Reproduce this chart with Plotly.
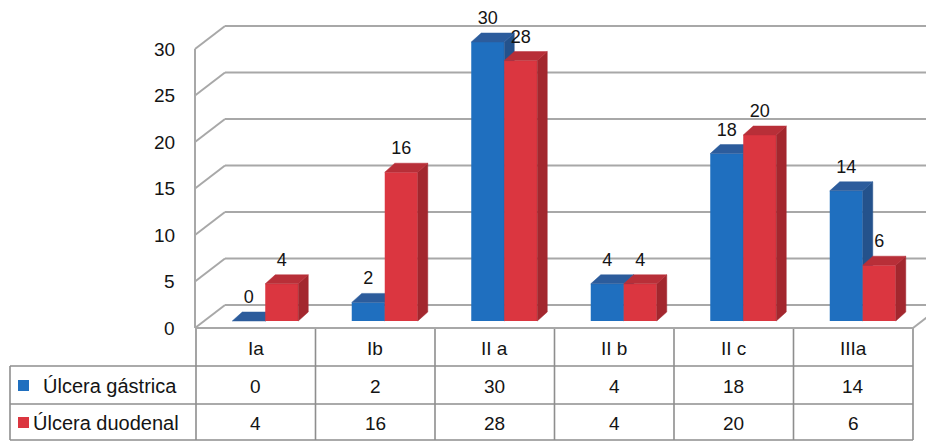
import plotly.graph_objects as go

# ---------------- data ----------------
categories = ["Ia", "Ib", "II a", "II b", "II c", "IIIa"]
gastrica = [0, 2, 30, 4, 18, 14]
duodenal = [4, 16, 28, 4, 20, 6]
series_names = ["Úlcera gástrica", "Úlcera duodenal"]
y_ticks = [0, 5, 10, 15, 20, 25, 30]

# ---------------- geometry / style ----------------
W, H = 934, 442              # browser window
OFF = 8                      # default page body margin
FW, FH = W - OFF, H - OFF    # figure size
CAT_LEFT, CAT_W = 196.0, 119.5          # window px of category -0.5 and px per category
BASE_PX, KY = 321.0, 9.3                 # window px of value 0 (bar plane) and px per unit
FRONT_LEFT, FRONT_DY = 195.0, 7.0        # front plane: left edge px, px below bar plane
BACK_LEFT, BACK_DY = 225.0, 16.0         # back wall: left edge px, px above bar plane
RIGHT_FRONT = 913.0
BAR_W, DEPTH_X, DEPTH_Y = 33.0, 10.0, 9.0
OFFS = [-7.0, 26.0]
LABEL_UP = 22.5
FRONT_C = ["#1F6FBF", "#DB3640"]
SIDE_C = ["#24528C", "#A3272E"]
TOP_C = ["#2C5C9C", "#B82F38"]
GRID_C = "#A8A8A8"
TABLE_C = "#8E8E8E"
FONT = "Liberation Sans, Arial, sans-serif"
TXT = "#141414"

def xd(px):
    return -0.5 + (px - CAT_LEFT) / CAT_W

def dxd(dpx):
    return dpx / CAT_W

def yd(py):
    return (BASE_PX - py) / KY

def dyd(dpx):
    return dpx / KY

def px_x(px):
    return (px - OFF) / FW

def px_y(py):
    return 1 - (py - OFF) / FH

fig = go.Figure()

series = [gastrica, duodenal]
axes = [("x", "y"), ("x2", "y2")]
for s, vals in enumerate(series):
    xa, ya = axes[s]
    centers = [i + dxd(OFFS[s]) for i in range(len(categories))]
    half = dxd(BAR_W) / 2
    ddx, ddy = dxd(DEPTH_X), dyd(DEPTH_Y)
    fig.add_trace(go.Bar(x=centers, y=vals, width=dxd(BAR_W), name=series_names[s],
                         marker=dict(color=FRONT_C[s], line=dict(width=0)),
                         xaxis=xa, yaxis=ya, showlegend=False, hoverinfo="skip"))
    sx, sy, tx, ty = [], [], [], []
    for c, v in zip(centers, vals):
        l, r = c - half, c + half
        sx += [r, r, r + ddx, r + ddx, r, None]
        sy += [0, v, v + ddy, ddy, 0, None]
        tx += [l, r, r + ddx, l + ddx, l, None]
        ty += [v, v, v + ddy, v + ddy, v, None]
    fig.add_trace(go.Scatter(x=sx, y=sy, mode="lines", fill="toself", fillcolor=SIDE_C[s],
                             line=dict(width=0.5, color=SIDE_C[s]), xaxis=xa, yaxis=ya,
                             showlegend=False, hoverinfo="skip"))
    fig.add_trace(go.Scatter(x=tx, y=ty, mode="lines", fill="toself", fillcolor=TOP_C[s],
                             line=dict(width=0.5, color=TOP_C[s]), xaxis=xa, yaxis=ya,
                             showlegend=False, hoverinfo="skip"))
    fig.add_trace(go.Scatter(x=centers, y=[v + dyd(LABEL_UP) for v in vals],
                             text=[str(v) for v in vals], mode="text", cliponaxis=False,
                             textfont=dict(family=FONT, size=18, color=TXT),
                             xaxis=xa, yaxis=ya, showlegend=False, hoverinfo="skip"))

shapes = []
def dline(x0, y0, x1, y1, color=GRID_C, width=2):
    shapes.append(dict(type="line", xref="x", yref="y", x0=x0, y0=y0, x1=x1, y1=y1,
                       line=dict(color=color, width=width), layer="below"))

def pline(x0, y0, x1, y1, color=TABLE_C, width=1.6):
    shapes.append(dict(type="line", xref="paper", yref="paper",
                       x0=px_x(x0), y0=px_y(y0), x1=px_x(x1), y1=px_y(y1),
                       line=dict(color=color, width=width), layer="below"))

annotations = []
for t in y_ticks:
    yf = t - dyd(FRONT_DY)
    yb = t + dyd(BACK_DY)
    dline(xd(FRONT_LEFT), yf, xd(BACK_LEFT), yb)
    dline(xd(BACK_LEFT), yb, xd(W + 2), yb)
    annotations.append(dict(xref="paper", yref="y", x=px_x(177), y=yf, text=str(t),
                            xanchor="right", yanchor="middle", showarrow=False,
                            font=dict(family=FONT, size=19, color=TXT)))
yf0 = y_ticks[0] - dyd(FRONT_DY)
yf30 = y_ticks[-1] - dyd(FRONT_DY)
dline(xd(FRONT_LEFT), yf0, xd(FRONT_LEFT), yf30)
dline(xd(FRONT_LEFT), yf0, xd(RIGHT_FRONT), yf0)
slope = (BACK_DY + FRONT_DY) / (BACK_LEFT - FRONT_LEFT)
dline(xd(RIGHT_FRONT), yf0, xd(W + 2), yf0 + dyd((W + 2 - RIGHT_FRONT) * slope))

# ---------------- data table ----------------
ROW_Y = [328, 366, 404, 440]
TABLE_LEFT = 10
col_edges = [CAT_LEFT + i * CAT_W for i in range(len(categories) + 1)]
for ry in ROW_Y[1:]:
    pline(TABLE_LEFT, ry, col_edges[-1], ry)
pline(TABLE_LEFT, ROW_Y[1], TABLE_LEFT, ROW_Y[-1])
for ex in col_edges:
    pline(ex, ROW_Y[0], ex, ROW_Y[-1])

for i, cat in enumerate(categories):
    cx = (col_edges[i] + col_edges[i + 1]) / 2
    annotations.append(dict(xref="paper", yref="paper", x=px_x(cx),
                            y=px_y((ROW_Y[0] + ROW_Y[1]) / 2 + 1), text=cat,
                            showarrow=False, xanchor="center", yanchor="middle",
                            font=dict(family=FONT, size=19, color=TXT)))
    for s, vals in enumerate(series):
        annotations.append(dict(xref="paper", yref="paper", x=px_x(cx),
                                y=px_y((ROW_Y[s + 1] + ROW_Y[s + 2]) / 2 + 1),
                                text=str(vals[i]), showarrow=False,
                                xanchor="center", yanchor="middle",
                                font=dict(family=FONT, size=19, color=TXT)))

LEG_TEXT_X = [41, 31]
for s in range(2):
    ry = (ROW_Y[s + 1] + ROW_Y[s + 2]) / 2
    shapes.append(dict(type="rect", xref="paper", yref="paper",
                       x0=px_x(18), x1=px_x(29), y0=px_y(ry - 5), y1=px_y(ry + 6),
                       fillcolor=FRONT_C[s], line=dict(width=0)))
    annotations.append(dict(xref="paper", yref="paper", x=px_x(LEG_TEXT_X[s]),
                            y=px_y(ry + 1), text=series_names[s], showarrow=False,
                            xanchor="left", yanchor="middle",
                            font=dict(family=FONT, size=20, color=TXT)))

xrange = [xd(OFF), xd(W)]
yrange = [yd(H), yd(OFF)]
ax = dict(range=xrange, visible=False, fixedrange=True, domain=[0, 1])
ay = dict(range=yrange, visible=False, fixedrange=True, domain=[0, 1])
fig.update_layout(
    width=FW, height=FH, margin=dict(l=0, r=0, t=0, b=0),
    paper_bgcolor="white", plot_bgcolor="white", barmode="overlay",
    xaxis=ax, yaxis=ay,
    xaxis2=dict(ax, overlaying="x", anchor="y2"),
    yaxis2=dict(ay, overlaying="y", anchor="x2"),
    shapes=shapes, annotations=annotations, showlegend=False,
)
fig.write_html("out.html")
